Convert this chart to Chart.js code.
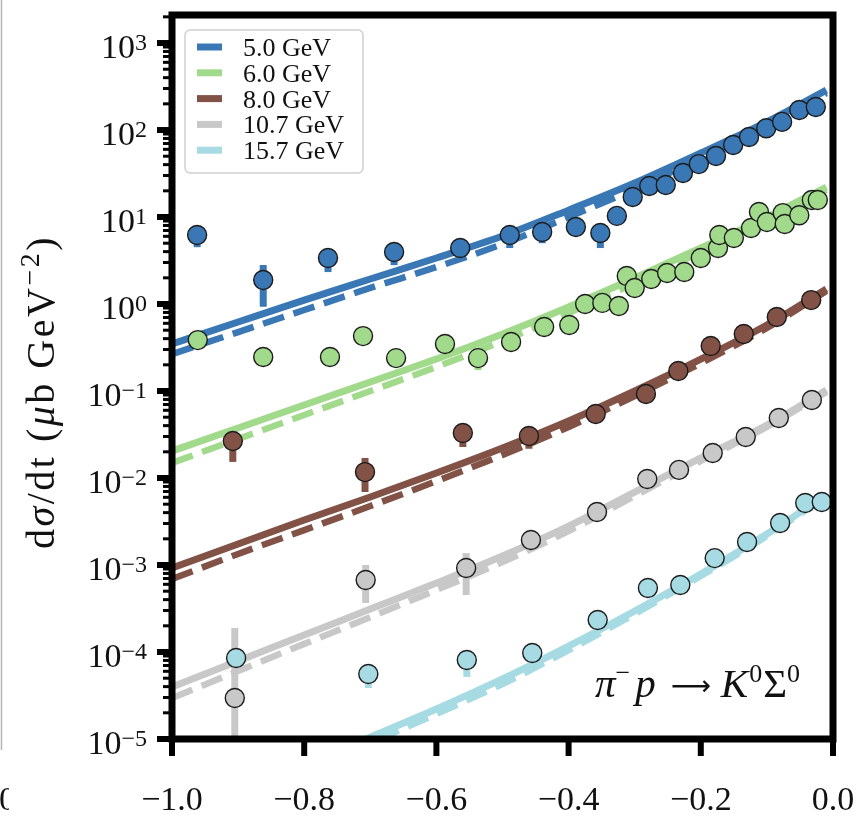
<!DOCTYPE html>
<html>
<head>
<meta charset="utf-8">
<script src="https://cdn.jsdelivr.net/npm/chart.js@4.4.0/dist/chart.umd.min.js"></script>
<style>
  html, body { margin: 0; padding: 0; background: #fff; }
  canvas { display: block; }
</style>
</head>
<body>
<canvas id="grafico" width="858" height="818"></canvas>
<script>
// === Curvas teóricas (t en GeV^2) ===
const tTeoria = [-1.0, -0.9, -0.8, -0.7, -0.6, -0.5, -0.4, -0.3, -0.2, -0.1, -0.01];

const fit50 = [0.347, 0.621, 1.11, 1.94, 3.38, 6.05, 12.0, 24.6, 54.4, 124, 288];
const fit50b = [0.266, 0.476, 0.853, 1.53, 2.66, 4.89, 10.0, 21.0, 47.6, 111, 266];
const fit60 = [0.0204, 0.0376, 0.0690, 0.127, 0.233, 0.452, 0.925, 1.99, 4.40, 10.0, 22.1];
const fit60b = [0.0149, 0.0281, 0.0530, 0.100, 0.189, 0.376, 0.789, 1.74, 3.96, 9.24, 20.4];
const fit80 = [9.25e-4, 1.74e-3, 3.29e-3, 6.05e-3, 0.0114, 0.0221, 0.0452, 0.100, 0.232, 0.574, 1.49];
const fit80b = [6.90e-4, 1.34e-3, 2.52e-3, 4.76e-3, 9.2e-3, 0.0184, 0.0385, 0.0877, 0.209, 0.530, 1.41];
const fit107 = [3.97e-5, 7.89e-5, 1.57e-4, 3.12e-4, 6.21e-4, 1.27e-3, 2.80e-3, 6.90e-3, 0.0170, 0.0406, 0.1026];
const fit107b = [2.96e-5, 6.05e-5, 1.24e-4, 2.52e-4, 5.16e-4, 1.08e-3, 2.46e-3, 6.21e-3, 0.0157, 0.0386, 0.0975];
const fit157 = [1.2e-6, 2.46e-6, 5.0e-6, 1.05e-5, 2.21e-5, 4.90e-5, 1.17e-4, 2.96e-4, 7.89e-4, 2.27e-3, 6.38e-3];
const fit157b = [1.0e-6, 2.1e-6, 4.3e-6, 9.0e-6, 1.94e-5, 4.29e-5, 1.05e-4, 2.74e-4, 7.48e-4, 2.15e-3, 6.21e-3];

// === Datos experimentales ===
const t50 = [-0.962, -0.862, -0.764, -0.664, -0.564, -0.489, -0.440, -0.389, -0.352, -0.327, -0.303,
             -0.278, -0.253, -0.227, -0.203, -0.177, -0.151, -0.127, -0.101, -0.077, -0.051, -0.026];
const y50 = [6.21, 1.89, 3.38, 3.96, 4.40, 6.21, 6.72, 7.67, 6.55, 10.3, 17.0,
             22.7, 23.3, 32.1, 40.6, 50.2, 67.3, 83.2, 105, 124, 170, 184];
const lo50 = [4.5, 0.93, 2.33, 2.8, 3.7, 4.4, 5.0, null, 4.4, null, null,
              null, null, null, null, null, null, null, null, null, null, null];
const hi50 = [null, 2.81, null, null, null, null, null, null, null, null, null,
              null, null, null, null, null, null, null, null, null, null, null];

const t60 = [-0.961, -0.862, -0.761, -0.711, -0.661, -0.587, -0.537, -0.487, -0.437, -0.399, -0.375,
             -0.349, -0.324, -0.312, -0.300, -0.275, -0.251, -0.225, -0.200, -0.174, -0.172, -0.150,
             -0.124, -0.112, -0.100, -0.076, -0.073, -0.051, -0.032, -0.023];
const y60 = [0.385, 0.246, 0.246, 0.428, 0.239, 0.347, 0.239, 0.366, 0.545, 0.574, 1.00,
             1.03, 0.948, 2.10, 1.53, 1.94, 2.27, 2.33, 3.38, 4.40, 6.21, 5.74,
             7.48, 11.4, 8.77, 11.1, 8.31, 10.5, 15.7, 15.7];
const lo60 = [null, null, null, null, null, null, 0.174, null, null, null, null,
              null, null, null, null, null, null, null, null, null, null, null,
              null, null, null, null, null, null, null, null];
const hi60 = lo60.map(() => null);

const t80 = [-0.908, -0.708, -0.560, -0.460, -0.359, -0.283, -0.234, -0.185, -0.135, -0.085, -0.033];
const y80 = [0.0266, 0.0117, 0.0329, 0.0304, 0.0545, 0.0925, 0.170, 0.329, 0.452, 0.710, 1.11];
const lo80 = [0.0153, 0.0069, 0.0227, 0.0217, null, null, null, null, null, null, null];
const hi80 = [null, 0.0170, null, null, null, null, null, null, null, null, null];

const t107 = [-0.905, -0.707, -0.555, -0.457, -0.357, -0.281, -0.233, -0.182, -0.132, -0.082, -0.032];
const y107 = [2.96e-5, 6.73e-4, 9.25e-4, 1.94e-3, 4.06e-3, 9.75e-3, 0.0124, 0.0194, 0.0296, 0.0490, 0.0789];
const lo107 = [1e-6, 3.66e-4, 4.52e-4, null, null, null, null, null, null, null, null];
const hi107 = [1.89e-4, 1.0e-3, 1.37e-3, null, null, null, null, null, null, null, null];

const t157 = [-0.903, -0.703, -0.554, -0.455, -0.356, -0.280, -0.231, -0.179, -0.130, -0.080, -0.042, -0.017];
const y157 = [8.53e-5, 5.58e-5, 8.09e-5, 9.75e-5, 2.33e-4, 5.45e-4, 5.89e-4, 1.20e-3, 1.84e-3, 3.04e-3, 5.17e-3, 5.30e-3];
const lo157 = [null, 3.86e-5, 5.17e-5, null, null, null, null, null, null, null, null, null];
const hi157 = lo157.map(() => null);

const etiquetas = ['5.0 GeV', '6.0 GeV', '8.0 GeV', '10.7 GeV', '15.7 GeV'];
const xTicks = [-1.0, -0.8, -0.6, -0.4, -0.2, 0.0];
const yExps = [-5, -4, -3, -2, -1, 0, 1, 2, 3];

// === Colores de cada energía ===
const colores = ['#3a77b5', '#a2da8c', '#825246', '#c8c8c8', '#a6dbe3'];
const FUENTE = '"Liberation Serif", "DejaVu Serif", serif';

const series = [
  { fit: fit50, fitB: fit50b, t: t50, y: y50, lo: lo50, hi: hi50 },
  { fit: fit60, fitB: fit60b, t: t60, y: y60, lo: lo60, hi: hi60 },
  { fit: fit80, fitB: fit80b, t: t80, y: y80, lo: lo80, hi: hi80 },
  { fit: fit107, fitB: fit107b, t: t107, y: y107, lo: lo107, hi: hi107 },
  { fit: fit157, fitB: fit157b, t: t157, y: y157, lo: lo157, hi: hi157 }
];

const datasets = [];
series.forEach((s, i) => {
  datasets.push({
    type: 'line', label: etiquetas[i], order: 10,
    data: tTeoria.map((t, k) => ({ x: t, y: s.fit[k] })),
    borderColor: colores[i], borderWidth: 7, pointRadius: 0,
    cubicInterpolationMode: 'monotone', borderCapStyle: 'butt', clip: 0
  });
  datasets.push({
    type: 'line', label: etiquetas[i] + ' (b)', order: 10,
    data: tTeoria.map((t, k) => ({ x: t, y: s.fitB[k] })),
    borderColor: colores[i], borderWidth: 6.5, pointRadius: 0, borderDash: [22, 10],
    cubicInterpolationMode: 'monotone', borderCapStyle: 'butt', clip: 0
  });
  datasets.push({
    type: 'scatter', label: etiquetas[i] + ' datos', order: -i,
    data: s.t.map((t, k) => ({ x: t, y: s.y[k] })),
    errLo: s.lo, errHi: s.hi,
    backgroundColor: colores[i], borderColor: '#1c1c1c', borderWidth: 1.4, pointRadius: 9.5
  });
});

// === Texto con superíndices ===
function textoRico(ctx, segs, x, y, align, espacio) {
  ctx.save();
  ctx.textBaseline = 'alphabetic';
  ctx.textAlign = 'left';
  if (espacio && 'letterSpacing' in ctx) ctx.letterSpacing = espacio + 'px';
  const fuente = s => (s.it ? 'italic ' : '') + s.size + 'px ' + (s.fam || FUENTE);
  let total = 0;
  segs.forEach(s => {
    ctx.font = fuente(s);
    s.w = ctx.measureText(s.text).width + (s.pad || 0);
    total += s.w;
  });
  let cx = align === 'right' ? x - total : align === 'center' ? x - total / 2 : x;
  segs.forEach(s => {
    ctx.font = fuente(s);
    ctx.fillText(s.text, cx + (s.pad || 0) / 2, y + (s.dy || 0));
    cx += s.w;
  });
  ctx.restore();
}

const decoracion = {
  id: 'decoracion',
  beforeDatasetDraw(chart, args) {
    const ds = chart.data.datasets[args.index];
    if (!ds.errLo) return;
    const { ctx, chartArea: a } = chart;
    const ys = chart.scales.y;
    ctx.save();
    ctx.beginPath();
    ctx.rect(a.left, a.top, a.right - a.left, a.bottom - a.top);
    ctx.clip();
    ctx.strokeStyle = ds.backgroundColor;
    ctx.lineWidth = 7;
    ctx.lineCap = 'butt';
    args.meta.data.forEach((pt, j) => {
      const v = ds.data[j].y;
      const lo = ds.errLo[j] ?? v;
      const hi = ds.errHi[j] ?? v;
      if (lo === v && hi === v) return;
      ctx.beginPath();
      ctx.moveTo(pt.x, ys.getPixelForValue(lo));
      ctx.lineTo(pt.x, ys.getPixelForValue(hi));
      ctx.stroke();
    });
    ctx.restore();
  },
  afterDraw(chart) {
    const { ctx, chartArea: a } = chart;
    const xs = chart.scales.x, ys = chart.scales.y;
    ctx.save();
    ctx.fillStyle = '#111';
    ctx.strokeStyle = '#000';

    // marco
    ctx.lineWidth = 7;
    ctx.strokeRect(a.left, a.top, a.right - a.left, a.bottom - a.top);

    // ticks eje y
    yExps.forEach(n => {
      const py = ys.getPixelForValue(Math.pow(10, n));
      ctx.lineWidth = 6;
      ctx.beginPath(); ctx.moveTo(a.left - 15, py); ctx.lineTo(a.left, py); ctx.stroke();
      textoRico(ctx, [
        { text: '10', size: 34 },
        { text: n < 0 ? '\u2212' + (-n) : String(n), size: 24, dy: -8 }
      ], 147, py + 15, 'right');
      for (let k = 2; k <= 9; k++) {
        const v = k * Math.pow(10, n);
        if (v > ys.max) break;
        const pm = ys.getPixelForValue(v);
        ctx.lineWidth = 3;
        ctx.beginPath(); ctx.moveTo(a.left - 9, pm); ctx.lineTo(a.left, pm); ctx.stroke();
      }
    });

    // ticks eje x
    xTicks.forEach(v => {
      const px = xs.getPixelForValue(v);
      ctx.lineWidth = 6;
      ctx.beginPath(); ctx.moveTo(px, a.bottom); ctx.lineTo(px, a.bottom + 17); ctx.stroke();
      const txt = v === 0 ? '0.0' : '\u2212' + Math.abs(v).toFixed(1);
      textoRico(ctx, [{ text: txt, size: 34 }], px, 810, 'center');
    });

    // leyenda
    ctx.fillStyle = 'rgba(255,255,255,0.85)';
    ctx.strokeStyle = '#d0d0d0';
    ctx.lineWidth = 1.5;
    ctx.beginPath();
    ctx.roundRect(185, 30, 178, 143, 5);
    ctx.fill(); ctx.stroke();
    etiquetas.forEach((lab, i) => {
      const cy = 47 + i * 25.8;
      ctx.strokeStyle = colores[i];
      ctx.lineWidth = 7;
      ctx.beginPath(); ctx.moveTo(197, cy); ctx.lineTo(222, cy); ctx.stroke();
      ctx.fillStyle = '#111';
      textoRico(ctx, [{ text: lab, size: 26 }], 243, cy + 9, 'left');
    });

    // reacción
    ctx.fillStyle = '#111';
    textoRico(ctx, [
      { text: '\u03C0', size: 41, it: true },
      { text: '\u2212', size: 26, dy: -16 },
      { text: 'p', size: 41, it: true, pad: 10 },
      { text: '\u27F6', size: 28, fam: '"DejaVu Sans", sans-serif', pad: 20, dy: -2 },
      { text: 'K', size: 41, it: true },
      { text: '0', size: 26, dy: -15, pad: 2 },
      { text: '\u03A3', size: 41 },
      { text: '0', size: 26, dy: -15 }
    ], 595, 697, 'left');

    // título eje y
    ctx.save();
    ctx.translate(54, 392);
    ctx.rotate(-Math.PI / 2);
    textoRico(ctx, [
      { text: 'd', size: 40 },
      { text: '\u03C3', size: 40, it: true },
      { text: '/dt (', size: 40 },
      { text: '\u03BC', size: 40, it: true },
      { text: 'b GeV', size: 40 },
      { text: '\u22122', size: 28, dy: -15 },
      { text: ')', size: 40 }
    ], 0, 0, 'center', 2.5);
    ctx.restore();

    // restos del panel vecino
    ctx.strokeStyle = '#b4b4b4';
    ctx.lineWidth = 1.5;
    ctx.beginPath(); ctx.moveTo(1.5, 0); ctx.lineTo(1.5, 750); ctx.stroke();
    ctx.save();
    ctx.beginPath(); ctx.rect(0, 760, 9, 58); ctx.clip();
    ctx.fillStyle = '#111';
    textoRico(ctx, [{ text: '0', size: 34 }], -1, 810, 'left');
    ctx.restore();

    ctx.restore();
  }
};

new Chart(document.getElementById('grafico'), {
  type: 'scatter',
  data: { datasets },
  options: {
    responsive: false,
    animation: false,
    devicePixelRatio: 1,
    layout: { padding: { left: 172, right: 25, top: 15, bottom: 79 } },
    scales: {
      x: { type: 'linear', min: -1, max: 0, display: false },
      y: { type: 'logarithmic', min: 1e-5, max: 2100, display: false }
    },
    plugins: { legend: { display: false }, tooltip: { enabled: false } }
  },
  plugins: [decoracion]
});
</script>
</body>
</html>
